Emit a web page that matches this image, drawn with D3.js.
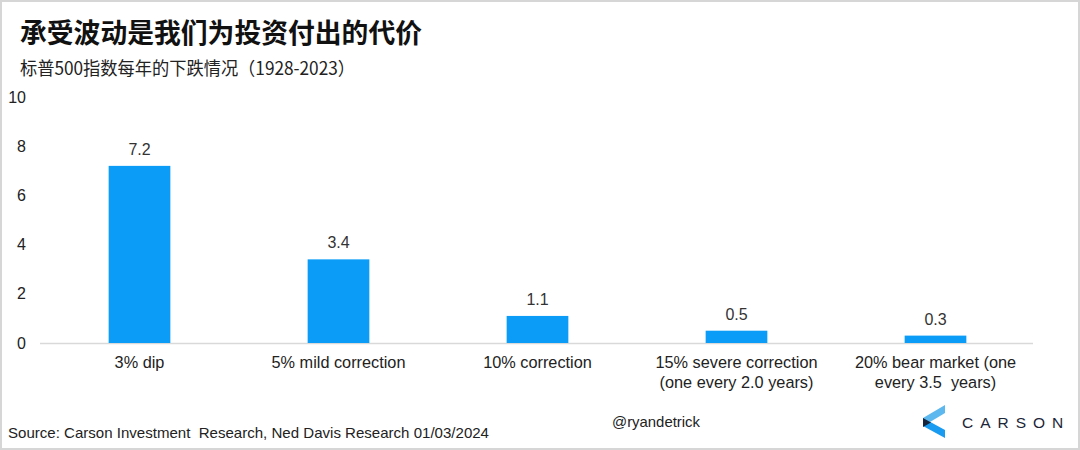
<!DOCTYPE html>
<html>
<head>
<meta charset="utf-8">
<script src="https://cdn.jsdelivr.net/npm/d3@7"></script>
<style>
  html, body { margin: 0; padding: 0; background: #fff; }
  svg { display: block; }
</style>
</head>
<body>
<svg id="chart" width="1080" height="450"></svg>
<script>
const categories = ["3% dip", "5% mild correction", "10% correction", "15% severe correction", "20% bear market (one"];
const categoryLines = [
  ["3% dip"],
  ["5% mild correction"],
  ["10% correction"],
  ["15% severe correction", "(one every 2.0 years)"],
  ["20% bear market (one", "every 3.5\u00a0 years)"]
];
const values = [7.2, 3.4, 1.1, 0.5, 0.3];
const valueLabels = ["7.2", "3.4", "1.1", "0.5", "0.3"];
const yTicks = [0, 2, 4, 6, 8, 10];
const title = "承受波动是我们为投资付出的代价";
const subtitle = "标普500指数每年的下跌情况（1928-2023）";
const source = "Source: Carson Investment\u00a0 Research, Ned Davis Research 01/03/2024";
const handle = "@ryandetrick";
const brand = "CARSON";

const svg = d3.select("#chart");
const W = 1080, H = 450;
const latin = "'Liberation Sans', Arial, sans-serif";
const cjk = "'Noto Sans CJK SC', 'Noto Sans', sans-serif";

// frame
svg.append("rect").attr("x", 1).attr("y", 1).attr("width", W - 2).attr("height", H - 2)
  .attr("fill", "#fff").attr("stroke", "#d6d6d6").attr("stroke-width", 2);

// titles
svg.append("text").attr("x", 20).attr("y", 43).text(title)
  .attr("font-family", cjk).attr("font-weight", 700).attr("font-size", 27).attr("fill", "#111")
  .attr("textLength", 402).attr("lengthAdjust", "spacingAndGlyphs");
svg.append("text").attr("x", 20).attr("y", 75).text(subtitle)
  .attr("font-family", cjk).attr("font-size", 18).attr("fill", "#222")
  .attr("textLength", 335).attr("lengthAdjust", "spacingAndGlyphs");

const x = d3.scaleBand().domain(categories).range([40, 1035]).paddingInner(0.69).paddingOuter(0.345);
const y = d3.scaleLinear().domain([0, 10]).range([343, 97]);

// y axis labels
const yAxis = d3.axisLeft(y).tickValues(yTicks).tickSize(0).tickPadding(0).tickFormat(d3.format("d"));
const gy = svg.append("g").attr("transform", "translate(26,0)").call(yAxis);
gy.select(".domain").remove();
gy.selectAll("text").attr("font-family", latin).attr("font-size", 16).attr("fill", "#222");

// baseline
svg.append("line").attr("x1", 40).attr("x2", 1033).attr("y1", y(0) + 0.5).attr("y2", y(0) + 0.5)
  .attr("stroke", "#d9d9d9").attr("stroke-width", 1.5);

// bars
svg.selectAll("rect.bar").data(values).join("rect").attr("class", "bar")
  .attr("x", (d, i) => x(categories[i]))
  .attr("width", x.bandwidth())
  .attr("y", d => y(d))
  .attr("height", d => y(0) - y(d))
  .attr("fill", "#0a9cf7");

// value labels
svg.selectAll("text.val").data(values).join("text").attr("class", "val")
  .attr("x", (d, i) => x(categories[i]) + x.bandwidth() / 2)
  .attr("y", d => y(d) - 11)
  .attr("text-anchor", "middle")
  .attr("font-family", latin).attr("font-size", 16).attr("fill", "#333")
  .text((d, i) => valueLabels[i]);

// category labels
categories.forEach((c, i) => {
  const t = svg.append("text").attr("text-anchor", "middle")
    .attr("font-family", latin).attr("font-size", 16.3).attr("fill", "#222");
  categoryLines[i].forEach((ln, j) => {
    t.append("tspan").attr("x", x(c) + x.bandwidth() / 2).attr("y", 368 + j * 20).text(ln);
  });
});

// footer
svg.append("text").attr("x", 8).attr("y", 438).text(source)
  .attr("font-family", latin).attr("font-size", 15).attr("fill", "#222")
  .attr("textLength", 481).attr("lengthAdjust", "spacingAndGlyphs");
svg.append("text").attr("x", 612).attr("y", 427).text(handle)
  .attr("font-family", latin).attr("font-size", 14.5).attr("fill", "#222")
  .attr("textLength", 88).attr("lengthAdjust", "spacingAndGlyphs");

// logo
const logo = svg.append("g");
logo.append("polygon").attr("points", "923,418 945,405 945,413 930,422").attr("fill", "#5db8f0");
logo.append("polygon").attr("points", "923,418 945,430 945,438 923,426").attr("fill", "#1a9bf2");
logo.append("polygon").attr("points", "923,418 931,422.5 923,427").attr("fill", "#15253d");
svg.append("text").attr("x", 962).attr("y", 428).text(brand)
  .attr("font-family", latin).attr("font-size", 15.5).attr("letter-spacing", 7)
  .attr("fill", "#1b2638");
</script>
</body>
</html>
